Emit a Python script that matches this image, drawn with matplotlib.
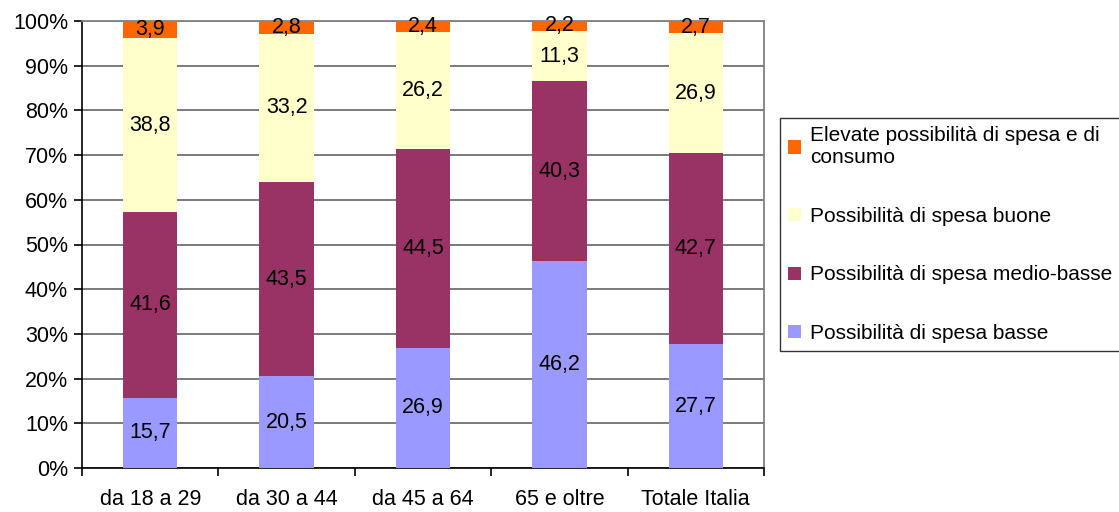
import matplotlib.pyplot as plt
import numpy as np

plt.rcParams['font.family'] = ['Liberation Sans', 'DejaVu Sans']

# Categorie e quote percentuali per classe di età
categorie = ["da 18 a 29", "da 30 a 44", "da 45 a 64", "65 e oltre", "Totale Italia"]
basse = [15.7, 20.5, 26.9, 46.2, 27.7]
medio_basse = [41.6, 43.5, 44.5, 40.3, 42.7]
buone = [38.8, 33.2, 26.2, 11.3, 26.9]
elevate = [3.9, 2.8, 2.4, 2.2, 2.7]

serie = [
    ("Possibilità di spesa basse", basse, "#9999FF"),
    ("Possibilità di spesa medio-basse", medio_basse, "#993366"),
    ("Possibilità di spesa buone", buone, "#FFFFCC"),
    ("Elevate possibilità di spesa e di\nconsumo", elevate, "#FF6600"),
]

fs = 15.5

fig = plt.figure(figsize=(11.19, 5.12), dpi=100)
ax = fig.add_axes([82 / 1119, 1 - 468 / 512, (764 - 82) / 1119, (468 - 21) / 512])

x = np.arange(len(categorie))
base = np.zeros(len(categorie))
for nome, valori, colore in serie:
    ax.bar(x, valori, 0.4, bottom=base, color=colore, label=nome, zorder=3)
    for xi, v, b0 in zip(x, valori, base):
        ax.text(xi, b0 + v / 2, f"{v:.1f}".replace(".", ","), ha="center",
                va="center", fontsize=fs, zorder=4)
    base = base + np.array(valori)

ax.set_xlim(-0.5, len(categorie) - 0.5)
ax.set_ylim(0, 100)
ax.set_yticks(np.arange(0, 101, 10))
ax.set_yticklabels([f"{v}%" for v in range(0, 101, 10)], fontsize=fs)
ax.yaxis.grid(True, color="#707070", linewidth=1.3, zorder=0)

# etichette al centro, tacche sui confini delle categorie
ax.set_xticks(x)
ax.set_xticklabels(categorie, fontsize=fs)
ax.tick_params(axis="x", length=0, pad=15)
ax.set_xticks(np.arange(-0.5, len(categorie)), minor=True)
ax.tick_params(axis="x", which="minor", length=6, width=1.2, direction="out")
ax.tick_params(axis="y", length=6, width=1.2, direction="out", pad=4)

for lato in ("top", "right"):
    ax.spines[lato].set_color("#808080")
    ax.spines[lato].set_linewidth(1.3)
for lato in ("left", "bottom"):
    ax.spines[lato].set_color("black")
    ax.spines[lato].set_linewidth(1.2)

h, l = ax.get_legend_handles_labels()
leg = fig.legend(h[::-1], l[::-1], loc="upper left",
                 bbox_to_anchor=(780 / 1119, 1 - 118 / 512), fontsize=15,
                 frameon=True, fancybox=False, edgecolor="black",
                 handlelength=0.6, handleheight=0.6, handletextpad=0.45,
                 labelspacing=1.9, borderpad=0.4, borderaxespad=0)
leg.get_frame().set_linewidth(1.0)

fig.savefig("out.png", dpi=100)
